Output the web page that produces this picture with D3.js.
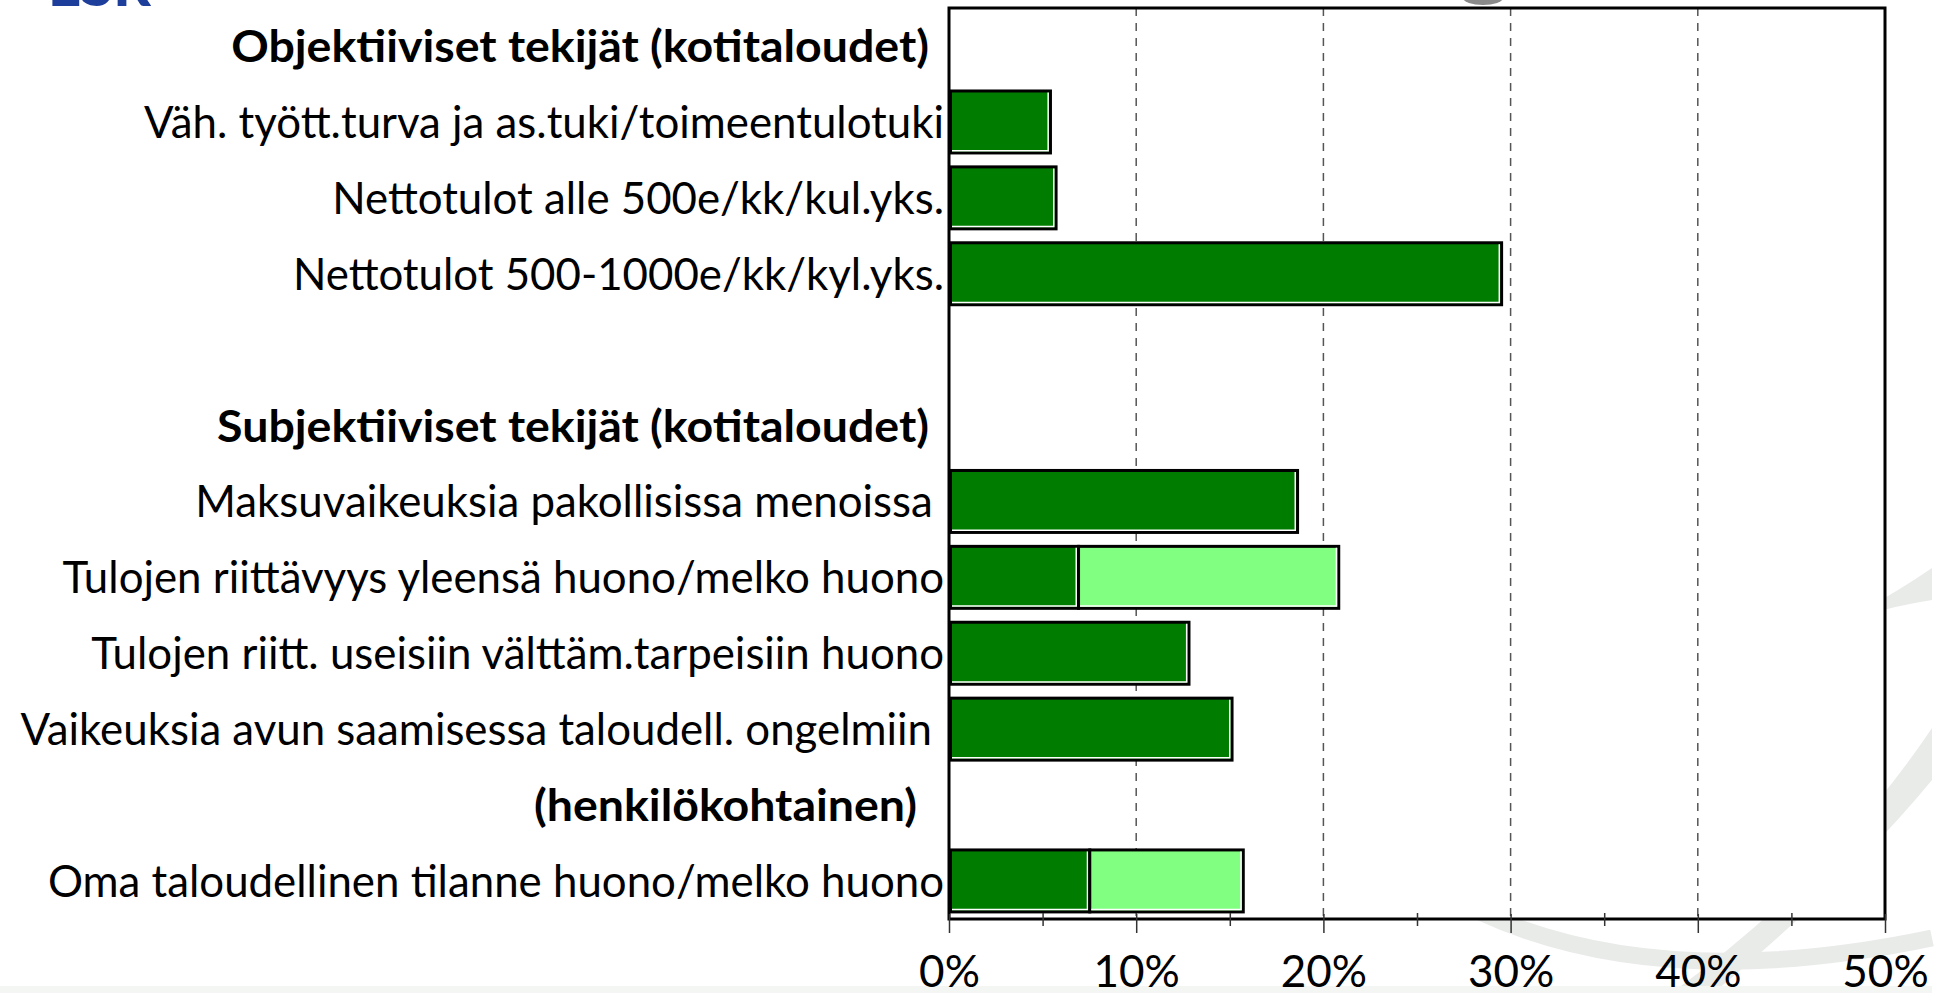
<!DOCTYPE html>
<html>
<head>
<meta charset="utf-8">
<script src="https://cdn.jsdelivr.net/npm/d3@7"></script>
<style>
html, body { margin: 0; padding: 0; background: #fff; }
svg { display: block; }
text { font-family: Lato, "Open Sans", sans-serif; fill: #000; white-space: pre; }
</style>
</head>
<body>
<div id="chart"></div>
<script>
// rows from top to bottom, headings have no bar
var row_labels = [
    'Objektiiviset tekijät (kotitaloudet)',
    'Väh. tyött.turva ja as.tuki/toimeentulotuki',
    'Nettotulot alle 500e/kk/kul.yks.',
    'Nettotulot 500-1000e/kk/kyl.yks.',
    '',
    'Subjektiiviset tekijät (kotitaloudet)',
    'Maksuvaikeuksia pakollisissa menoissa ',
    'Tulojen riittävyys yleensä huono/melko huono',
    'Tulojen riitt. useisiin välttäm.tarpeisiin huono',
    'Vaikeuksia avun saamisessa taloudell. ongelmiin',
    '(henkilökohtainen)',
    'Oma taloudellinen tilanne huono/melko huono'
];
var heading_labels = [
    'Objektiiviset tekijät (kotitaloudet)',
    'Subjektiiviset tekijät (kotitaloudet)',
    '(henkilökohtainen)'
];
// percent, dark green = huono, light green = melko huono
var dark_values = [null, 5.5, 5.8, 29.6, null, null, 18.7, 7.0, 12.9, 15.2, null, 7.6];
var light_values = [null, 0, 0, 0, null, null, 0, 13.9, 0, 0, null, 8.2];
var x_ticks = [0, 10, 20, 30, 40, 50];
var x_minor_ticks = [5, 15, 25, 35, 45];

var width = 1954, height = 993;
var plot = { left: 949, right: 1885, top: 8, bottom: 919 };

var svg = d3.select('#chart').append('svg').attr('width', width).attr('height', height);

// faint watermark swooshes of the slide background
var wm = svg.append('g').attr('fill', '#e9ebe9');
svg.append('rect').attr('x', 0).attr('y', 986).attr('width', 1932).attr('height', 7).attr('fill', '#f4f6f4');
wm.append('path').attr('d', 'M1480,912 Q1660,995 1932,938').attr('fill', 'none').attr('stroke', '#e9ebe9').attr('stroke-width', 17);
wm.append('path').attr('d', 'M1662,1000 Q1830,880 1932,728 L1932,780 Q1850,880 1705,1000 Z');
wm.append('path').attr('d', 'M1860,612 Q1900,590 1932,568 L1932,600 Q1900,605 1860,616 Z');

// cut off logo / title bits at the top edge
svg.append('text').text('ESR').attr('x', 48).attr('y', 6).attr('font-size', 58).attr('font-weight', 900).style('fill', '#1d3e9a');
svg.append('ellipse').attr('cx', 1483).attr('cy', -2).attr('rx', 20).attr('ry', 7).attr('fill', '#8a8a8a');

svg.append('rect').attr('x', plot.left).attr('y', plot.top).attr('width', plot.right - plot.left).attr('height', plot.bottom - plot.top).attr('fill', '#fff');

var x_scale = d3.scaleLinear().domain([0, 50]).range([plot.left, plot.right]);
var y_scale = d3.scaleBand().domain(d3.range(row_labels.length)).range([6, 921]).paddingInner(0.144).paddingOuter(0.1);

// dashed grid
svg.append('g').selectAll('line').data(x_ticks.slice(1, -1)).join('line')
    .attr('x1', d => x_scale(d)).attr('x2', d => x_scale(d))
    .attr('y1', plot.top).attr('y2', plot.bottom)
    .attr('stroke', '#555').attr('stroke-width', 1.5).attr('stroke-dasharray', '8,7');

function draw_segment(g, x0, x1, y0, h, fill) {
    g.append('rect').attr('x', x0 + 1.5).attr('y', y0 + 1.5).attr('width', x1 - x0 - 3).attr('height', h - 3)
        .attr('fill', fill).attr('stroke', '#000').attr('stroke-width', 3);
    g.append('path').attr('d', 'M' + (x0 + 3) + ',' + (y0 + h - 3.8) + ' H' + (x1 - 3.8) + ' V' + (y0 + 3))
        .attr('fill', 'none').attr('stroke', '#fff').attr('stroke-width', 1.5);
}

var bars = svg.append('g');
row_labels.forEach((label, i) => {
    if (dark_values[i] == null) return;
    var y0 = y_scale(i), h = y_scale.bandwidth();
    var x_dark = x_scale(dark_values[i]);
    draw_segment(bars, x_scale(0), x_dark, y0, h, '#007d00');
    if (light_values[i] > 0) {
        draw_segment(bars, x_dark - 3, x_scale(dark_values[i] + light_values[i]), y0, h, '#80ff80');
    }
});

// frame
svg.append('rect').attr('x', plot.left).attr('y', plot.top).attr('width', plot.right - plot.left).attr('height', plot.bottom - plot.top)
    .attr('fill', 'none').attr('stroke', '#000').attr('stroke-width', 3);

// x axis ticks and labels
var x_axis = svg.append('g').attr('transform', 'translate(0,' + plot.bottom + ')')
    .call(d3.axisBottom(x_scale).tickValues(x_ticks).tickSize(14).tickPadding(23).tickFormat(d => d + '%'));
x_axis.select('.domain').remove();
x_axis.selectAll('line').attr('y1', -5).attr('stroke', '#333').attr('stroke-width', 1.5);
x_axis.selectAll('text').attr('font-size', 44).attr('font-family', 'Lato, sans-serif').style('fill', '#000');
var x_minor = svg.append('g').attr('transform', 'translate(0,' + plot.bottom + ')')
    .call(d3.axisBottom(x_scale).tickValues(x_minor_ticks).tickSize(7).tickFormat(''));
x_minor.select('.domain').remove();
x_minor.selectAll('line').attr('y1', -6).attr('stroke', '#333').attr('stroke-width', 1.5);

// category labels, narrowed to the width of the original typeface
var label_g = svg.append('g');
var texts = label_g.selectAll('text').data(row_labels).join('text')
    .text(d => d)
    .attr('text-anchor', 'end')
    .attr('font-size', 44)
    .attr('font-weight', d => heading_labels.includes(d) ? 700 : 400);
function natural(i) { return texts.filter((d, j) => j == i).node().getComputedTextLength(); }
var k_regular = Math.min(919 / natural(11), 912 / natural(9));
var k_bold = 698 / natural(0);
texts.attr('transform', (d, i) => {
    var is_heading = heading_labels.includes(d);
    var k = is_heading ? k_bold : k_regular;
    var right = is_heading ? 929 : 944;
    if (d.charAt(0) == '(') right = 917;
    if (d.indexOf('Vaikeuksia') == 0) right = 932;
    return 'translate(' + right + ',' + (y_scale(i) + y_scale.bandwidth() / 2 + 16) + ') scale(' + k + ',1)';
});
</script>
</body>
</html>
